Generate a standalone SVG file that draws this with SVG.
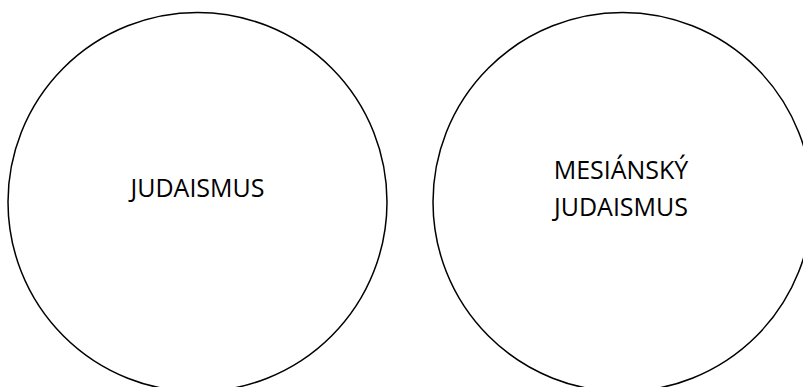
<svg xmlns="http://www.w3.org/2000/svg" width="803" height="387" viewBox="0 0 803 387">
  <style>
    .circle { fill: none; stroke: #000000; stroke-width: 1.5; }
    .label { font-family: "Open Sans", "Liberation Sans", sans-serif; font-size: 25px; fill: #000000; text-anchor: middle; }
  </style>
  <rect x="0" y="0" width="803" height="387" fill="#ffffff"/>
  <g id="judaismus">
    <circle class="circle" cx="197.5" cy="202" r="189.5"/>
    <text class="label" x="197.5" y="197">JUDAISMUS</text>
  </g>
  <g id="mesiansky-judaismus">
    <circle class="circle" cx="622.5" cy="202" r="189.5"/>
    <text class="label" x="621" y="179">MESIÁNSKÝ</text>
    <text class="label" x="621" y="216">JUDAISMUS</text>
  </g>
  <g id="connectors"></g>
</svg>
